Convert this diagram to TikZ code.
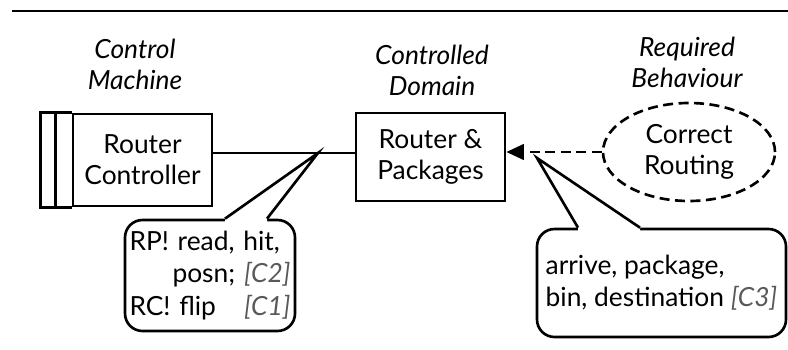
\documentclass[tikz,border=0pt]{standalone}
\usepackage{fontspec}
\setmainfont{Lato}
\usetikzlibrary{shapes.geometric,arrows.meta}
\newcommand{\cnum}[1]{{\itshape\color{black!65}#1}}

\begin{document}
\begin{tikzpicture}[line width=1.5pt]
        \tikzset{box/.style={draw, align=center, inner sep=0pt, font=\fontsize{15}{17.6}\selectfont},
                 title/.style={align=center, font=\fontsize{15}{17.6}\selectfont\itshape},
                 bubble/.style={draw, rounded corners=0.35cm, inner sep=0pt, align=left, font=\fontsize{15}{18.4}\selectfont},
                 dashes/.style={dash pattern=on 0.2cm off 0.11cm}}
        \useasboundingbox (0,0) rectangle (15.76,6.98);
        \draw (0.24,6.76) -- (15.76,6.76);

        \node [title] (tm) at (2.70,5.70) {Control\\Machine};
        \node [title] (td) at (8.64,5.57) {Controlled\\Domain};
        \node [title] (tb) at (13.74,5.73) {Required\\Behaviour};

        \node [box, minimum width=2.78cm, minimum height=1.84cm] (rc) at (2.85,3.78) {Router\\Controller};
        \draw (rc.north west) -- ++(-0.62,0) |- (rc.south west);
        \draw ([xshift=-0.32cm]rc.north west) -- ([xshift=-0.32cm]rc.south west);
        \node [box, minimum width=2.98cm, minimum height=1.76cm] (rp) at (8.61,3.84) {Router \&\\Packages};
        \node [box, ellipse, dashes, minimum width=3.44cm, minimum height=1.96cm] (cr) at (13.78,3.94) {Correct\\Routing};

        \coordinate (t1) at (6.36,3.92);
        \coordinate (t2) at (10.74,3.82);
        \draw (rc.east |- t1) -- (t1) -- (rp.west |- t1);
        \draw [dashes, -{Triangle[length=0.35cm,width=0.31cm]}] (cr.west) -- (rp.east |- cr.west);

        \node [bubble, text width=3.22cm, minimum width=3.40cm, minimum height=2.22cm] (c1) at (4.20,1.47)
              {RP! read, hit,\\ \hspace*{\fill}posn; \cnum{[C2]}\\ RC! flip\hfill\cnum{[C1]}};
        \fill [white] ([xshift=0.30cm]c1.north) -- (t1) -- ([xshift=1.14cm]c1.north) -- ++(0,-0.08) -- ([xshift=0.30cm,yshift=-0.08cm]c1.north) -- cycle;
        \draw ([xshift=0.30cm]c1.north) -- (t1) -- ([xshift=1.14cm]c1.north);

        \node [bubble, minimum width=4.98cm, minimum height=2.16cm] (c2) at (13.23,1.32)
              {arrive, package,\\ bin, destination \cnum{[C3]}};
        \fill [white] ([xshift=-1.67cm]c2.north) -- (t2) -- ([xshift=-0.43cm]c2.north) -- ++(0,-0.08) -- ([xshift=-1.67cm,yshift=-0.08cm]c2.north) -- cycle;
        \draw ([xshift=-1.67cm]c2.north) -- (t2) -- ([xshift=-0.43cm]c2.north);
\end{tikzpicture}
\end{document}
